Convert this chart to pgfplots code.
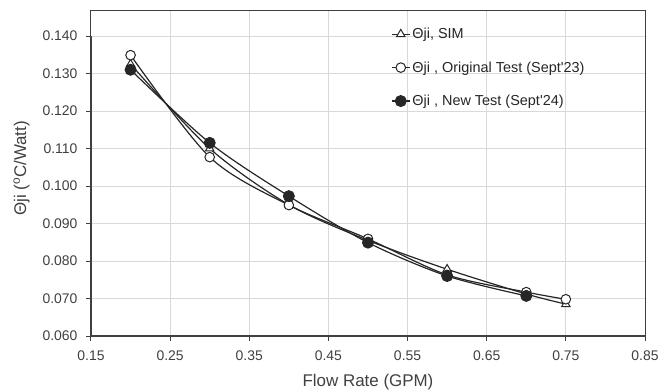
\documentclass[border=0pt]{standalone}
\usepackage{fontspec}
\setmainfont{Liberation Sans}
\usepackage{pgfplots}
\pgfplotsset{compat=1.18}
\definecolor{gridc}{HTML}{D9D9D9}
\definecolor{axc}{HTML}{404040}
\definecolor{linec}{HTML}{262626}
\begin{document}
\begin{tikzpicture}[x=1bp,y=1bp]
\useasboundingbox (-91bp,-55bp) rectangle (569bp,336bp);
\begin{axis}[
  at={(0,0)}, anchor=south west,
  scale only axis, width=554bp, height=325.3bp,
  xmin=0.15, xmax=0.85, ymin=0.06, ymax=0.14675,
  xtick={0.15,0.25,0.35,0.45,0.55,0.65,0.75,0.85},
  ytick={0.06,0.07,0.08,0.09,0.10,0.11,0.12,0.13,0.14},
  xticklabel style={/tikz/yshift=-6bp, /pgf/number format/fixed, /pgf/number format/fixed zerofill, /pgf/number format/precision=2},
  yticklabel style={/tikz/xshift=-5bp, /pgf/number format/fixed, /pgf/number format/fixed zerofill, /pgf/number format/precision=3},
  /pgf/number format/assume math mode=true,
  scaled ticks=false,
  tick label style={font=\fontsize{14}{16}\selectfont, text=axc},
  grid=major, major grid style={gridc, line width=1bp},
  tick align=outside, tick pos=left, major tick length=5bp,
  tick style={axc, line width=1bp},
  axis line style={axc, line width=1bp},
  xlabel={Flow Rate (GPM)},
  ylabel={Θji (\textsuperscript{o}C/Watt)},
  label style={font=\fontsize{17}{20}\selectfont, text=axc},
  xlabel style={at={(axis description cs:0.5,-0.1419)}, anchor=center},
  ylabel style={at={(axis description cs:-0.1254,0.515)}, anchor=center},
  legend image code/.code={\draw[mark repeat=2,mark phase=2] plot coordinates {(0bp,0bp)(9bp,0bp)(18bp,0bp)};},
  legend style={font=\fontsize{14.5}{17}\selectfont, text=linec, draw=none, fill=none,
    at={(0.5415,0.953)}, anchor=north west, inner sep=0pt, row sep=17.5bp},
  legend cell align=left,
]
\addplot[linec, line width=1.2bp, smooth, tension=0.5, mark=triangle*, mark size=4.8bp,
  mark options={fill=white, draw=linec, line width=1bp}]
  coordinates {(0.2,0.1325) (0.3,0.1100) (0.4,0.0950) (0.5,0.0855) (0.6,0.0778) (0.7,0.0712) (0.75,0.0685)};
\addlegendentry{Θji, SIM}
\addplot[linec, line width=1.2bp, smooth, tension=0.5, mark=*, mark size=4.8bp,
  mark options={fill=white, draw=linec, line width=1bp}]
  coordinates {(0.2,0.1349) (0.3,0.1077) (0.4,0.0949) (0.5,0.0859) (0.6,0.0763) (0.7,0.0717) (0.75,0.0698)};
\addlegendentry{Θji , Original Test (Sept\textquotesingle 23)}
\addplot[linec, line width=1.2bp, smooth, tension=0.5, mark=*, mark size=5.5bp,
  mark options={fill=linec, draw=linec, line width=1bp}]
  coordinates {(0.2,0.1310) (0.3,0.1115) (0.4,0.0973) (0.5,0.0849) (0.6,0.0760) (0.7,0.0707)};
\addlegendentry{Θji , New Test (Sept\textquotesingle 24)}
\draw[axc, line width=1.8bp] (axis cs:0.15,0.06) -- (axis cs:0.85,0.06);
\draw[axc, line width=1.8bp] (axis cs:0.15,0.06) -- (axis cs:0.15,0.14);
\end{axis}
\end{tikzpicture}
\end{document}
